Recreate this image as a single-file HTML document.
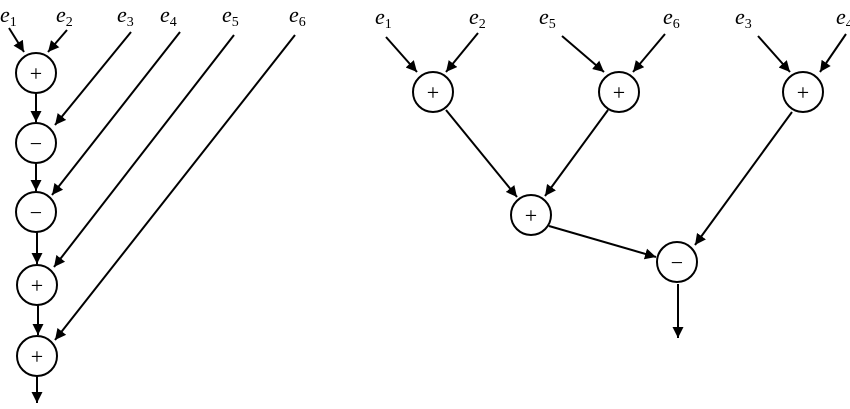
<!DOCTYPE html>
<html><head><style>body{margin:0;background:#fff}svg{display:block}
text{font-family:"Liberation Serif",serif;fill:#000}
.l{font-size:22px;font-style:italic}.s{font-size:14px;font-style:normal}
.o{font-size:22px;text-anchor:middle}</style></head><body>
<svg width="850" height="409" viewBox="0 0 850 409">
<defs><marker id="a" viewBox="0 0 10 10" refX="10" refY="5" markerWidth="11" markerHeight="11" markerUnits="userSpaceOnUse" orient="auto"><path d="M0,0L10,5L0,10z" fill="#000"/></marker></defs>
<g stroke="#000" stroke-width="2" fill="none">
<circle cx="36" cy="73" r="20"/><circle cx="36" cy="143" r="20"/><circle cx="36" cy="212" r="20"/><circle cx="37" cy="285" r="20"/><circle cx="37" cy="356" r="20"/>
<circle cx="433" cy="92" r="20"/><circle cx="619" cy="92" r="20"/><circle cx="803" cy="92" r="20"/><circle cx="531" cy="215" r="20"/><circle cx="677" cy="262" r="20"/>
</g>
<g stroke="#000" stroke-width="2" marker-end="url(#a)">
<line x1="9" y1="28" x2="24" y2="52"/><line x1="67" y1="30" x2="48" y2="52"/>
<line x1="36" y1="93" x2="36" y2="122"/><line x1="36" y1="163" x2="36" y2="191"/><line x1="37" y1="232" x2="37" y2="264"/><line x1="38" y1="305" x2="38" y2="335"/><line x1="37" y1="376" x2="37" y2="403"/>
<line x1="131" y1="32" x2="55" y2="125"/><line x1="180" y1="32" x2="52" y2="195"/><line x1="234" y1="35" x2="54" y2="267"/><line x1="295" y1="35" x2="55" y2="340"/>
<line x1="386" y1="37" x2="417" y2="72"/><line x1="478" y1="33" x2="446" y2="72"/><line x1="562" y1="36" x2="604" y2="72"/><line x1="665" y1="34" x2="633" y2="72"/><line x1="758" y1="36" x2="790" y2="72"/><line x1="846" y1="34" x2="820" y2="72"/>
<line x1="446" y1="110" x2="517" y2="197"/><line x1="608" y1="110" x2="545" y2="196"/><line x1="549" y1="226" x2="656" y2="257"/><line x1="792" y1="112" x2="695" y2="245"/><line x1="678" y1="284" x2="678" y2="338"/>
</g>
<g class="o"><text x="36" y="81">+</text><text x="36" y="151">−</text><text x="36" y="220">−</text><text x="37" y="293">+</text><text x="37" y="364">+</text>
<text x="433" y="100">+</text><text x="619" y="100">+</text><text x="803" y="100">+</text><text x="531" y="223">+</text><text x="677" y="270">−</text></g>
<g class="l">
<text x="0" y="22">e<tspan class="s" dy="4">1</tspan></text><text x="56" y="22">e<tspan class="s" dy="4">2</tspan></text><text x="117" y="22">e<tspan class="s" dy="4">3</tspan></text><text x="160" y="22">e<tspan class="s" dy="4">4</tspan></text><text x="222" y="22">e<tspan class="s" dy="4">5</tspan></text><text x="289" y="22">e<tspan class="s" dy="4">6</tspan></text>
<text x="375" y="24">e<tspan class="s" dy="4">1</tspan></text><text x="469" y="24">e<tspan class="s" dy="4">2</tspan></text><text x="539" y="24">e<tspan class="s" dy="4">5</tspan></text><text x="663" y="24">e<tspan class="s" dy="4">6</tspan></text><text x="735" y="24">e<tspan class="s" dy="4">3</tspan></text><text x="836" y="24">e<tspan class="s" dy="4">4</tspan></text>
</g>
</svg></body></html>
